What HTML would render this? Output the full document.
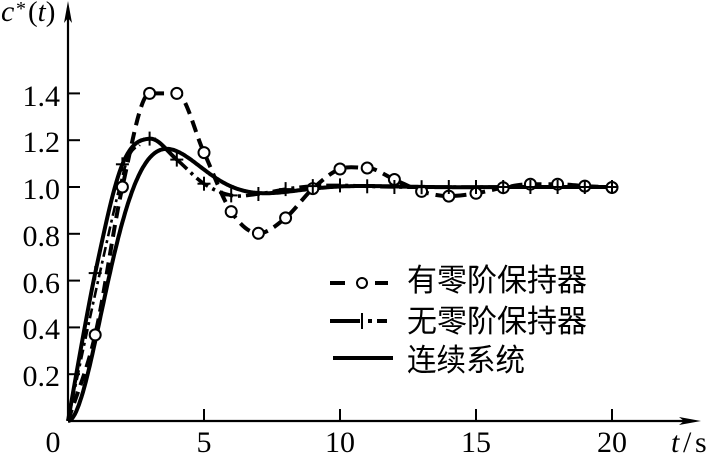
<!DOCTYPE html>
<html><head><meta charset="utf-8"><style>
html,body{margin:0;padding:0;background:#fff;}
svg{display:block;}
.num{font-family:"Liberation Serif","Times New Roman",serif;font-size:30px;fill:#000;}
.cjk{font-family:"Liberation Sans","Noto Sans CJK SC",sans-serif;font-size:31px;fill:#000;}
</style></head><body>
<svg id="s" width="709" height="459" viewBox="0 0 709 459" xmlns="http://www.w3.org/2000/svg">
<rect width="709" height="459" fill="#fff"/>
<!-- axes -->
<line x1="68" y1="421" x2="68" y2="8" stroke="#000" stroke-width="2.2"/>
<polygon points="68,1 64,23 68,18 72,23" fill="#000"/>
<line x1="68" y1="421" x2="690" y2="421" stroke="#000" stroke-width="2.2"/>
<polygon points="701,421 679,417 684,421 679,425" fill="#000"/>
<!-- ticks -->
<g stroke="#000" stroke-width="2">
<line x1="68" y1="374.2" x2="80" y2="374.2"/>
<line x1="68" y1="327.4" x2="80" y2="327.4"/>
<line x1="68" y1="280.6" x2="80" y2="280.6"/>
<line x1="68" y1="233.8" x2="80" y2="233.8"/>
<line x1="68" y1="187" x2="80" y2="187"/>
<line x1="68" y1="140.2" x2="80" y2="140.2"/>
<line x1="68" y1="93.4" x2="80" y2="93.4"/>
<line x1="204" y1="421" x2="204" y2="409"/>
<line x1="340" y1="421" x2="340" y2="409"/>
<line x1="476" y1="421" x2="476" y2="409"/>
<line x1="612" y1="421" x2="612" y2="409"/>
</g>
<!-- y labels -->
<g class="num" font-family="Liberation Serif, Times New Roman, serif" font-size="30" text-anchor="end">
<text x="60" y="386" font-family="Liberation Serif, serif">0.2</text>
<text x="60" y="339" font-family="Liberation Serif, serif">0.4</text>
<text x="60" y="293" font-family="Liberation Serif, serif">0.6</text>
<text x="60" y="246" font-family="Liberation Serif, serif">0.8</text>
<text x="60" y="199" font-family="Liberation Serif, serif">1.0</text>
<text x="60" y="152" font-family="Liberation Serif, serif">1.2</text>
<text x="60" y="106" font-family="Liberation Serif, serif">1.4</text>
</g>
<g class="num" font-family="Liberation Serif, Times New Roman, serif" font-size="30" text-anchor="middle">
<text x="53" y="452" font-family="Liberation Serif, serif">0</text>
<text x="204" y="452" font-family="Liberation Serif, serif">5</text>
<text x="340" y="452" font-family="Liberation Serif, serif">10</text>
<text x="476" y="452" font-family="Liberation Serif, serif">15</text>
<text x="612" y="452" font-family="Liberation Serif, serif">20</text>
</g>
<text class="num" x="671" y="452" font-family="Liberation Serif, serif" font-size="30" font-style="italic">t</text>
<text class="num" x="683" y="452" font-family="Liberation Serif, serif" font-size="30">/</text>
<text class="num" x="695" y="452" font-family="Liberation Serif, serif" font-size="30">s</text>
<text class="num" x="1" y="21" font-family="Liberation Serif, serif" font-size="30" font-style="italic">c</text>
<text class="num" x="16" y="15" font-family="Liberation Serif, serif" style="font-size:20px">*</text>
<text class="num" x="28" y="21" font-family="Liberation Serif, serif" style="font-size:29px">(<tspan font-style="italic">t</tspan>)</text>

<g id="curves"></g>

<!-- legend -->
<g stroke="#000" stroke-width="4" fill="none">
<line x1="330" y1="283" x2="345" y2="283"/>
<line x1="375" y1="283" x2="388" y2="283"/>
<line x1="330" y1="321" x2="360" y2="321"/>
<line x1="368" y1="321" x2="372" y2="321"/>
<line x1="377" y1="321" x2="387" y2="321"/>
<line x1="333" y1="358" x2="393" y2="358"/>
</g>
<circle cx="362" cy="283" r="5" fill="#fff" stroke="#000" stroke-width="2"/>
<line x1="362" y1="313" x2="362" y2="329" stroke="#000" stroke-width="2"/>
<text class="cjk" x="407" y="291" textLength="180" lengthAdjust="spacingAndGlyphs">有零阶保持器</text>
<text class="cjk" x="407" y="332" textLength="180" lengthAdjust="spacingAndGlyphs">无零阶保持器</text>
<text class="cjk" x="407" y="371" textLength="118" lengthAdjust="spacingAndGlyphs">连续系统</text>
</svg>
<script>
(function(){
var NS="http://www.w3.org/2000/svg";
var g=document.getElementById("curves");
function X(t){return 68+27.2*t;}
function Y(v){return 421-234*v;}
function f(n){return n.toFixed(1);}
function segs(pts){
  var out=[];
  for(var i=0;i<pts.length-1;i++){
    var p0=pts[i-1]||pts[i],p1=pts[i],p2=pts[i+1],p3=pts[i+2]||p2;
    var c1=[p1[0]+(p2[0]-p0[0])/6,p1[1]+(p2[1]-p0[1])/6];
    var c2=[p2[0]-(p3[0]-p1[0])/6,p2[1]-(p3[1]-p1[1])/6];
    out.push({s:p1,c1:c1,c2:c2,e:p2});
  }
  return out;
}
function monoSegs(pts){
  var n=pts.length,d=[],m=[],out=[];
  for(var i=0;i<n-1;i++)d.push((pts[i+1][1]-pts[i][1])/(pts[i+1][0]-pts[i][0]));
  m[0]=d[0];m[n-1]=d[n-2];
  for(var i=1;i<n-1;i++){
    if(d[i-1]*d[i]<=0)m[i]=0;
    else m[i]=(d[i-1]+d[i])/2;
  }
  for(var i=0;i<n-1;i++){
    var h=pts[i+1][0]-pts[i][0];
    out.push({s:pts[i],c1:[pts[i][0]+h/3,pts[i][1]+m[i]*h/3],c2:[pts[i+1][0]-h/3,pts[i+1][1]-m[i+1]*h/3],e:pts[i+1]});
  }
  return out;
}
function pathFrom(sg,a,b){
  var d="M"+f(sg[a].s[0])+","+f(sg[a].s[1]);
  for(var i=a;i<b;i++){var q=sg[i];d+="C"+f(q.c1[0])+","+f(q.c1[1])+" "+f(q.c2[0])+","+f(q.c2[1])+" "+f(q.e[0])+","+f(q.e[1]);}
  return d;
}
function el(name,attrs){var e=document.createElementNS(NS,name);for(var k in attrs)e.setAttribute(k,attrs[k]);g.appendChild(e);return e;}
// continuous
var w=Math.sqrt(3)/2,d="";
for(var i=0;i<=400;i++){var t=i*0.05;var c=1-Math.exp(-0.5*t)*(Math.cos(w*t)+(0.5/w)*Math.sin(w*t));d+=(i?"L":"M")+f(X(t))+","+f(Y(c));}
el("path",{d:d,fill:"none",stroke:"#000","stroke-width":"4","stroke-linejoin":"round"});
var nz=[0,0.632,1.097,1.207,1.117,1.014,0.964,0.970,0.991,1.004,1.007,1.003,1.000,0.999,1.0,1.0,1.0,1.0,1.0,1.0,1.0];
var zh=[0,0.368,1.0,1.4,1.4,1.147,0.895,0.802,0.868,0.993,1.077,1.081,1.032,0.981,0.961,0.973,0.997,1.012,1.012,1.004,0.998];
var np=nz.map(function(v,k){return [X(k),Y(v)];});
var ns=segs(np);
el("path",{d:pathFrom(ns,0,4),fill:"none",stroke:"#000","stroke-width":"4"});
el("path",{d:pathFrom(ns,4,20),fill:"none",stroke:"#000","stroke-width":"3.6","stroke-dasharray":"14 5 3 5"});
var np2=[[X(0),Y(0)],[X(1)+4,Y(0.62)],[X(2)+3,Y(1.09)],[X(2.6)+1,Y(1.18)]];
el("path",{d:pathFrom(segs(np2),0,3),fill:"none",stroke:"#000","stroke-width":"2.6","stroke-dasharray":"10 4 3 4"});
var zp=zh.map(function(v,k){return [X(k),Y(v)];});
var zs=monoSegs(zp);
el("path",{d:pathFrom(zs,0,20),fill:"none",stroke:"#000","stroke-width":"4","stroke-dasharray":"12 7"});
for(var k=1;k<=20;k++){el("circle",{cx:f(X(k)),cy:f(Y(zh[k])),r:"5.5",fill:"#fff",stroke:"#000","stroke-width":"2"});}
for(var k=1;k<=20;k++){var x=X(k),y=Y(nz[k]);
 el("line",{x1:f(x-6.5),y1:f(y),x2:f(x+6.5),y2:f(y),stroke:"#000","stroke-width":"2"});
 el("line",{x1:f(x),y1:f(y-7),x2:f(x),y2:f(y+7),stroke:"#000","stroke-width":"2"});}
})();
</script>
</body></html>
